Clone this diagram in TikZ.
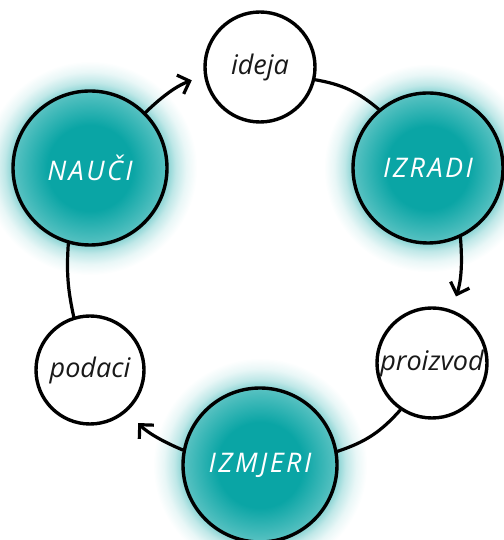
\documentclass[tikz,border=0pt]{standalone}
\usepackage{fontspec}
\setmainfont{Open Sans}
\newfontfamily\capsfont[LetterSpace=9]{Open Sans}
\usetikzlibrary{arrows.meta}
\definecolor{tealc}{RGB}{10,165,165}
\pgfdeclareradialshading{glowshade}{\pgfpoint{0bp}{0bp}}{color(0bp)=(tealc); color(10bp)=(tealc); color(17.9bp)=(tealc!68!white); color(18.1bp)=(tealc!48!white); color(20bp)=(tealc!26!white); color(22.5bp)=(tealc!9!white); color(25bp)=(white); color(50bp)=(white)}
\tikzset{
  bub/.style={circle, draw=black, line width=3.4pt, inner sep=0pt, text=black!90,
    font=\fontsize{27}{30}\selectfont\itshape},
  keybub/.style={bub, text=white, font=\capsfont\fontsize{27}{30}\selectfont\itshape},
  link/.style={line width=3.2pt, line cap=round},
  arr/.style={link, -{Straight Barb[length=10pt,width=20pt]}},
  glow/.style={shading=glowshade}
}
\begin{document}
\begin{tikzpicture}[x=1pt,y=1pt]
\useasboundingbox (0,0) rectangle (503,540);
\fill[white] (0,0) rectangle (503,540);
\coordinate (cN) at (90,372);
\coordinate (cR) at (428,372);
\coordinate (cM) at (260,75);
\path[glow] (cN) circle[radius=107pt];
\path[glow] (cR) circle[radius=104.2pt];
\path[glow] (cM) circle[radius=107pt];
\node[bub, minimum size=110pt] (ideja) at (260,473) {ideja};
\node[keybub, minimum size=150pt] (izradi) at (cR) {IZRADI};
\node[keybub, minimum size=154pt] (nauci) at (cN) {NAUČI};
\node[bub, minimum size=108pt] (podaci) at (90,170) {podaci};
\node[bub, minimum size=110pt] (proizvod) at (432,177) {proizvod};
\node[keybub, minimum size=154pt] (izmjeri) at (cM) {IZMJERI};
\draw[arr, shorten >=13pt] (nauci.45) to[bend left=12] (ideja.189);
\draw[link] (ideja.-13) to[bend left=15] (izradi.130);
\draw[arr, shorten >=14pt] (izradi.-65) to[bend left=12] (proizvod.70);
\draw[link] (proizvod.236) to[bend left=15] (izmjeri.10);
\draw[arr, shorten >=16pt] (izmjeri.169) to[bend left=12] (podaci.-48);
\draw[link] (podaci.107) to[bend left=8] (nauci.254);
\end{tikzpicture}
\end{document}
